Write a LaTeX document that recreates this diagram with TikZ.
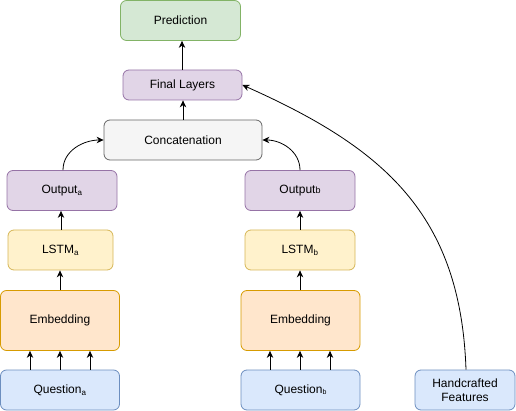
\documentclass[tikz,border=0pt]{standalone}
\usepackage{fontspec}
\setmainfont{Liberation Sans}
\usetikzlibrary{arrows.meta}
\definecolor{gfill}{HTML}{D5E8D4}\definecolor{gdraw}{HTML}{82B366}
\definecolor{pfill}{HTML}{E1D5E7}\definecolor{pdraw}{HTML}{9673A6}
\definecolor{cfill}{HTML}{F5F5F5}\definecolor{cdraw}{HTML}{666666}
\definecolor{yfill}{HTML}{FFF2CC}\definecolor{ydraw}{HTML}{D6B656}
\definecolor{ofill}{HTML}{FFE6CC}\definecolor{odraw}{HTML}{D79B00}
\definecolor{bfill}{HTML}{DAE8FC}\definecolor{bdraw}{HTML}{6C8EBF}
\newcommand{\sbs}[1]{\textsubscript{#1}}
\begin{document}
\begin{tikzpicture}[x=1pt,y=-1pt,
  box/.style={rounded corners=6pt, line width=0.8pt, inner sep=0pt,
    font=\fontsize{12}{14}\selectfont, align=center},
  green/.style={box, fill=gfill, draw=gdraw},
  purple/.style={box, fill=pfill, draw=pdraw},
  grey/.style={box, fill=cfill, draw=cdraw},
  yellow/.style={box, fill=yfill, draw=ydraw},
  orange/.style={box, fill=ofill, draw=odraw},
  blue/.style={box, fill=bfill, draw=bdraw},
  arr/.style={-{Stealth[length=7pt,width=6.5pt]}, line width=0.8pt, black}]
\useasboundingbox (0,0) rectangle (516,411);
\node[green, minimum width=120pt, minimum height=40pt] (pred) at (180.5,20.5) {Prediction};
\node[purple, minimum width=119pt, minimum height=30pt] (final) at (182.5,85) {Final Layers};
\node[grey, minimum width=158pt, minimum height=40pt] (concat) at (183,140) {Concatenation};
\node[purple, minimum width=110pt, minimum height=40pt] (outa) at (62,190.5) {Output\sbs{a}};
\node[yellow, minimum width=105pt, minimum height=40pt] (lstma) at (60.5,250) {LSTM\sbs{a}};
\node[orange, minimum width=119pt, minimum height=60pt] (emba) at (60,320.5) {Embedding};
\node[blue, minimum width=119pt, minimum height=40pt] (qa) at (60,390) {Question\sbs{a}};
\node[purple, minimum width=110pt, minimum height=40pt] (outb) at (300,190.5) {Output{\fontsize{9}{9}\selectfont b}};
\node[yellow, minimum width=110pt, minimum height=40pt] (lstmb) at (300,250) {LSTM\sbs{b}};
\node[orange, minimum width=119pt, minimum height=60pt] (embb) at (300.5,320.5) {Embedding};
\node[blue, minimum width=119pt, minimum height=40pt] (qb) at (300.5,390) {Question{\fontsize{7}{7}\selectfont\raisebox{-1.5pt}{b}}};
\node[blue, minimum width=100pt, minimum height=40pt] (hand) at (465,390) {Handcrafted\\Features};
% arrows
\draw[arr] (final.north -| 182,0) -- (pred.south -| 182,0);
\draw[arr] (concat.north -| 183,0) -- (final.south -| 183,0);
\draw[arr] (lstma.north -| 61,0) -- (outa.south -| 61,0);
\draw[arr] (emba.north -| 60,0) -- (lstma.south -| 60,0);
\draw[arr] (lstmb.north -| 300,0) -- (outb.south -| 300,0);
\draw[arr] (embb.north -| 300,0) -- (lstmb.south -| 300,0);
\foreach \x in {30,60,90} \draw[arr] (qa.north -| \x,0) -- (emba.south -| \x,0);
\foreach \x in {270,300,330} \draw[arr] (qb.north -| \x,0) -- (embb.south -| \x,0);
\draw[arr] (outa.north -| 63,0) to[out=90,in=180] (concat.west);
\draw[arr] (outb.north -| 300,0) to[out=90,in=0] (concat.east);
\draw[arr] (hand.north -| 466,0) to[out=92,in=-24,looseness=1.1] (final.east);
\end{tikzpicture}
\end{document}
